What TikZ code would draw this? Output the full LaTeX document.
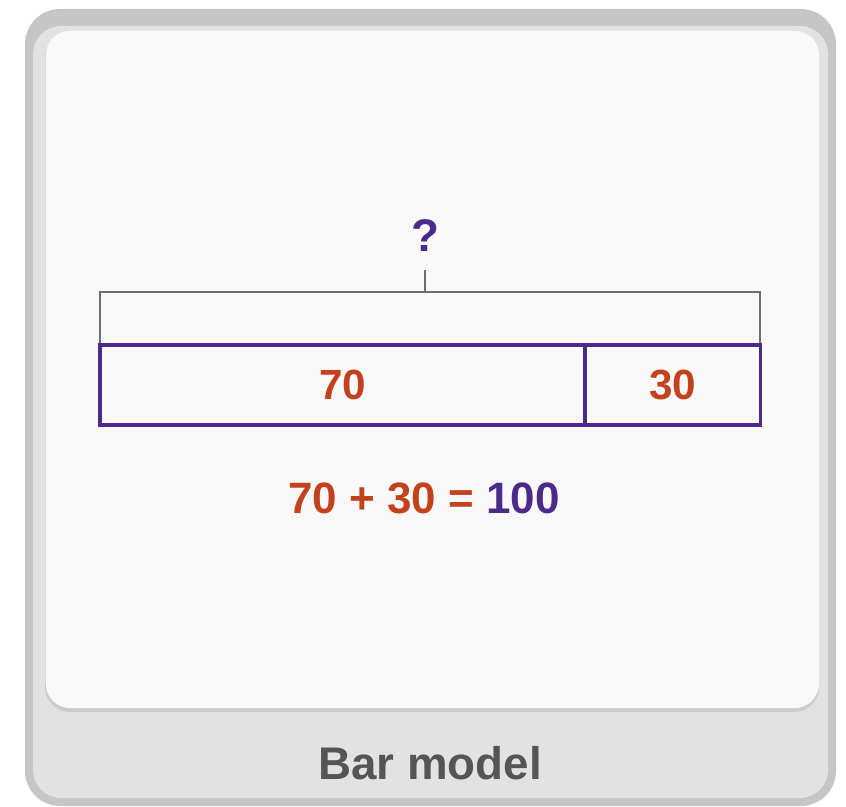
\documentclass[tikz,border=0pt]{standalone}
\usepackage{fontspec}
\setmainfont{Liberation Sans}
\usepackage{tikz}
\usetikzlibrary{positioning,calc}
\usepackage{xcolor}
\definecolor{framegray}{HTML}{c6c6c6}
\definecolor{lightgray}{HTML}{e2e2e2}
\definecolor{panelwhite}{HTML}{f9f9f9}
\definecolor{barpurple}{HTML}{4b2a8c}
\definecolor{numred}{HTML}{c4411e}
\definecolor{textgray}{HTML}{555555}
\definecolor{linegray}{HTML}{6e6e6e}

\begin{document}
\begin{tikzpicture}[
  x=0.01cm,y=-0.01cm,
  bar/.style={rectangle,draw=barpurple,line width=1pt,inner sep=0pt,
    font=\fontsize{12}{14}\selectfont\bfseries,text=numred},
  wholebar/.style={rectangle,draw=linegray,line width=0.7pt,inner sep=0pt},
  qmark/.style={font=\fontsize{13}{15}\selectfont\bfseries,text=barpurple},
]
\useasboundingbox (0,0) rectangle (846,807);

% Card frame
\fill[framegray,rounded corners=10pt] (25,9) rectangle (836,806);
\fill[lightgray,rounded corners=8pt] (33,26) rectangle (828,798);
\fill[black!20,rounded corners=7pt] (45,32) rectangle (819,712);
\node[fill=panelwhite,rounded corners=7pt,minimum width=7.73cm,minimum height=6.77cm,
  anchor=north west,inner sep=0pt] (panel) at (45,30) {};

% Bars
\node[wholebar,minimum width=6.6cm,minimum height=0.53cm] (whole) at (430,318.5) {};
\node[bar,minimum width=4.85cm,minimum height=0.8cm] (part70) at (342.5,385) {70};
\node[bar,minimum width=1.75cm,minimum height=0.8cm,right=-1pt of part70] (part30) {30};

% Question
\node[qmark] (question) at (425,236) {?};
\draw[linegray,line width=0.7pt] (question.south) ++(0,6) coordinate (qfoot) (qfoot) -- (qfoot |- whole.north);

% Sum
\node[font=\fontsize{12.5}{15}\selectfont\bfseries] (sum) at (424,498)
  {\textcolor{numred}{70 + 30 =} \textcolor{barpurple}{100}};

% Caption
\node[font=\fontsize{13}{15}\selectfont\bfseries,text=textgray] (caption) at (430,763) {Bar model};

\end{tikzpicture}
\end{document}
